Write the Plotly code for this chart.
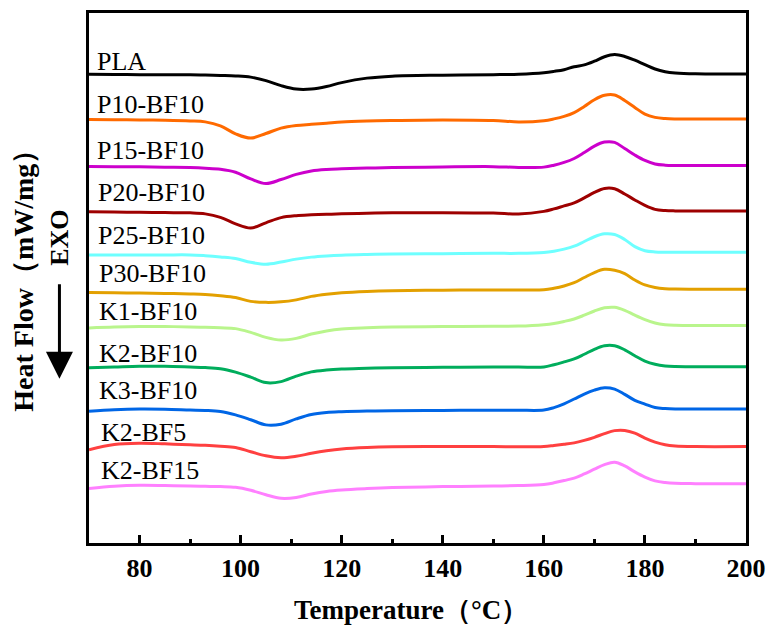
import plotly.graph_objects as go

# Temperature grid (°C)
temperature = [70, 75, 80, 85, 90, 93, 96, 99, 102, 105, 108, 111, 114, 117, 120, 125, 130, 140, 150, 155,
               160, 162, 164, 166, 168, 170, 172, 174, 176, 178, 180, 182, 184, 186, 190, 200]

names = ["PLA", "P10-BF10", "P15-BF10", "P20-BF10", "P25-BF10", "P30-BF10",
         "K1-BF10", "K2-BF10", "K3-BF10", "K2-BF5", "K2-BF15"]

# vertical stacking offsets (a.u.)
offsets = [47.15, 42.6, 37.87, 33.3, 28.97, 25.2, 21.63, 17.63, 13.3, 9.7, 5.8]

# heat-flow deviations from each curve's baseline (a.u.)
hf_PLA = [0, -0.03, -0.05, -0.05, -0.07, -0.09, -0.13, -0.18, -0.30, -0.65, -1.15, -1.50, -1.50, -1.25, -0.85,
          -0.40, -0.20, -0.10, -0.05, 0, 0.15, 0.28, 0.45, 0.75, 0.93, 1.30, 1.75, 1.97, 1.78, 1.40,
          0.95, 0.52, 0.25, 0.12, 0.03, 0.02]
hf_P10 = [0, -0.03, -0.05, -0.08, -0.15, -0.25, -0.65, -1.45, -1.88, -1.42, -0.88, -0.62, -0.50, -0.38, -0.25,
          -0.15, -0.10, -0.05, -0.10, -0.25, -0.13, 0.05, 0.30, 0.68, 1.30, 1.98, 2.42, 2.45, 1.90, 1.20,
          0.53, 0.20, 0.08, 0.04, 0.03, 0.03]
hf_P15 = [0, -0.02, -0.04, -0.07, -0.12, -0.18, -0.28, -0.58, -1.25, -1.72, -1.32, -0.80, -0.45, -0.30, -0.24,
          -0.17, -0.12, -0.05, -0.02, -0.10, -0.07, 0.12, 0.40, 0.80, 1.40, 2.05, 2.45, 2.42, 1.80, 1.15,
          0.60, 0.25, 0.13, 0.10, 0.10, 0.10]
hf_P20 = [0, -0.02, -0.04, -0.07, -0.10, -0.20, -0.55, -1.20, -1.62, -1.10, -0.58, -0.38, -0.30, -0.25, -0.20,
          -0.13, -0.10, -0.08, -0.12, -0.22, 0.05, 0.30, 0.60, 0.90, 1.40, 1.95, 2.35, 2.32, 1.80, 1.20,
          0.65, 0.25, 0.13, 0.10, 0.10, 0.10]
hf_P25 = [0, 0, 0, 0, 0, -0.08, -0.20, -0.36, -0.74, -0.94, -0.72, -0.42, -0.22, -0.10, -0.02,
          0.05, 0.10, 0.13, 0.16, 0.16, 0.25, 0.38, 0.58, 0.88, 1.35, 1.83, 2.12, 2.05, 1.55, 0.83,
          0.42, 0.30, 0.27, 0.26, 0.26, 0.26]
hf_P30 = [0, -0.03, -0.07, -0.10, -0.15, -0.20, -0.33, -0.52, -0.90, -1.00, -0.95, -0.75, -0.40, -0.18, -0.03,
          0.10, 0.17, 0.22, 0.25, 0.25, 0.27, 0.42, 0.65, 0.98, 1.50, 2.00, 2.32, 2.22, 1.88, 1.25,
          0.75, 0.50, 0.38, 0.34, 0.33, 0.33]
hf_K1 = [0, 0.09, 0.14, 0.14, 0.10, 0.06, 0.01, -0.07, -0.45, -0.95, -1.22, -1.05, -0.62, -0.30, -0.10,
         0.02, 0.09, 0.14, 0.17, 0.19, 0.33, 0.45, 0.65, 0.90, 1.28, 1.70, 2.02, 2.07, 1.77, 1.28,
         0.84, 0.50, 0.33, 0.27, 0.24, 0.24]
hf_K2 = [0, 0.07, 0.14, 0.14, 0.07, 0.02, -0.10, -0.45, -0.95, -1.50, -1.40, -0.85, -0.42, -0.23, -0.13,
         -0.06, 0, 0.04, 0.07, 0.07, 0.07, 0.30, 0.58, 0.88, 1.35, 1.85, 2.20, 2.20, 1.80, 1.20,
         0.67, 0.35, 0.18, 0.12, 0.10, 0.10]
hf_K3 = [-0.05, 0.10, 0.17, 0.15, 0.07, 0.03, -0.08, -0.42, -0.90, -1.42, -1.35, -0.82, -0.38, -0.18, -0.10,
         -0.03, 0, 0.03, 0.05, 0.05, 0.07, 0.32, 0.70, 1.18, 1.68, 2.08, 2.32, 2.18, 1.65, 1.05,
         0.67, 0.32, 0.22, 0.18, 0.17, 0.17]
hf_K2BF5 = [-0.33, 0.20, 0.33, 0.27, 0.18, 0.12, 0.03, -0.10, -0.52, -0.93, -1.13, -0.98, -0.68, -0.43, -0.25,
            -0.10, -0.03, 0, 0, -0.03, 0, 0.10, 0.22, 0.37, 0.62, 0.93, 1.30, 1.60, 1.62, 1.35,
            0.85, 0.45, 0.18, 0.06, 0, 0]
hf_K2BF15 = [-0.33, -0.10, 0, -0.02, -0.07, -0.10, -0.13, -0.20, -0.50, -0.95, -1.30, -1.22, -0.88, -0.62, -0.47,
             -0.33, -0.23, -0.13, -0.07, -0.03, 0.08, 0.25, 0.48, 0.73, 1.15, 1.62, 2.08, 2.32, 1.95, 1.35,
             0.83, 0.45, 0.28, 0.20, 0.17, 0.17]

series = [hf_PLA, hf_P10, hf_P15, hf_P20, hf_P25, hf_P30, hf_K1, hf_K2, hf_K3, hf_K2BF5, hf_K2BF15]

colors = ["#000000", "#FF6A00", "#CC00CC", "#9E0000", "#6EFFFF", "#E3A000",
          "#B9F58C", "#00AD5C", "#0066E6", "#FF4040", "#FF80FF"]

x_ticks = [80, 100, 120, 140, 160, 180, 200]

FONT = "Liberation Serif, Times New Roman, serif"

fig = go.Figure()
for name, off, dev, col in zip(names, offsets, series, colors):
    assert len(dev) == len(temperature)
    fig.add_trace(go.Scatter(
        x=temperature, y=[off + d for d in dev], mode="lines", name=name,
        line=dict(color=col, width=3, shape="spline", smoothing=1.0),
        showlegend=False, hoverinfo="skip"))

# curve labels
label_lift = [1.3, 1.5, 1.63, 1.9, 1.93, 1.9, 1.67, 1.47, 2.0, 1.4, 1.5]
label_x = [71.1, 71.1, 71.1, 71.3, 71.3, 71.5, 71.6, 71.6, 71.6, 72.0, 72.0]
for name, off, lift, lx in zip(names, offsets, label_lift, label_x):
    fig.add_annotation(x=lx, y=off + lift, xref="x", yref="y", text=name, showarrow=False,
                       xanchor="left", yanchor="middle",
                       font=dict(family=FONT, size=26, color="black"))

# axis titles
fig.add_annotation(x=-0.099, y=0.508, xref="paper", yref="paper", text="<b>Heat Flow（mW/mg）</b>",
                   textangle=-90, showarrow=False, xanchor="center", yanchor="middle",
                   font=dict(family=FONT, size=28, color="black"))
fig.add_annotation(x=-0.044, y=0.576, xref="paper", yref="paper", text="<b>EXO</b>",
                   textangle=-90, showarrow=False, xanchor="center", yanchor="middle",
                   font=dict(family=FONT, size=26, color="black"))
fig.add_annotation(x=-0.045, y=0.310, xref="paper", yref="paper", text="",
                   showarrow=True, ax=0, ay=-96, axref="pixel", ayref="pixel",
                   arrowhead=2, arrowsize=1.8, arrowwidth=3, arrowcolor="black", standoff=0)
fig.add_annotation(x=0.49, y=-0.126, xref="paper", yref="paper", text="<b>Temperature（°C）</b>",
                   showarrow=False, xanchor="center", yanchor="middle",
                   font=dict(family=FONT, size=27, color="black"))

fig.update_layout(
    width=776, height=637,
    margin=dict(l=89, r=26, t=10, b=94),
    paper_bgcolor="white", plot_bgcolor="white",
    font=dict(family=FONT, color="black"),
    xaxis=dict(range=[70, 200], tickvals=x_ticks, ticktext=[f"<b>{v}</b>" for v in x_ticks],
               ticks="inside", ticklen=8, tickwidth=3, tickcolor="black",
               minor=dict(ticks="inside", ticklen=4, tickwidth=3, dtick=10, tick0=70, tickcolor="black"),
               showline=True, linewidth=3, linecolor="black", mirror=True,
               showgrid=False, zeroline=False,
               tickfont=dict(family=FONT, size=26, color="black")),
    yaxis=dict(range=[0, 53.3], showticklabels=False, ticks="",
               showline=True, linewidth=3, linecolor="black", mirror=True,
               showgrid=False, zeroline=False),
)

fig.write_html("out.html")
